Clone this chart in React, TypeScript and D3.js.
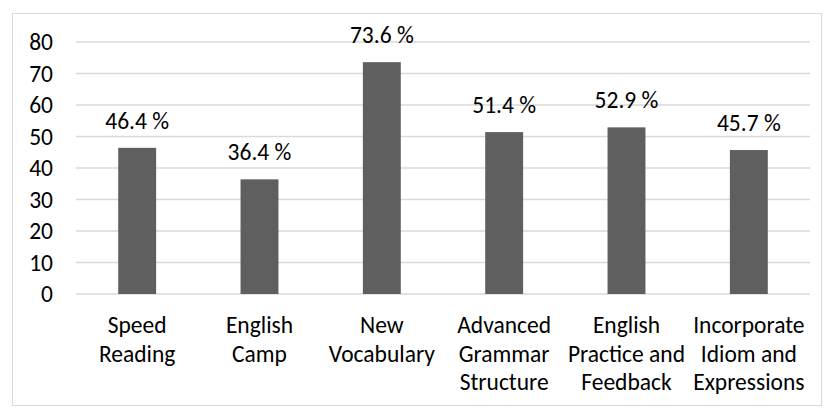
import React from "react";
import * as d3 from "d3";

// chart data
const categories: string[][] = [
  ["Speed", "Reading"],
  ["English", "Camp"],
  ["New", "Vocabulary"],
  ["Advanced", "Grammar", "Structure"],
  ["English", "Practice and", "Feedback"],
  ["Incorporate", "Idiom and", "Expressions"],
];
const values: number[] = [46.4, 36.4, 73.6, 51.4, 52.9, 45.7];
const yTicks: number[] = [0, 10, 20, 30, 40, 50, 60, 70, 80];

const W = 825;
const H = 408;
const margin = { top: 42, right: 15, bottom: 114, left: 76 };
const font = "Carlito, Lato, 'Open Sans', sans-serif";
const fs = 23.5;

export default function App() {
  const x = d3
    .scaleBand<number>()
    .domain(values.map((_, i) => i))
    .range([margin.left, W - margin.right])
    .paddingInner(0.69)
    .paddingOuter(0.345);
  const y = d3
    .scaleLinear()
    .domain([0, 80])
    .range([H - margin.bottom, margin.top]);

  return (
    <svg
      width={W}
      height={H}
      style={{ position: "absolute", left: 0, top: 0, background: "#fff" }}
      fontFamily={font}
    >
      {/* chart frame */}
      <rect x={12.5} y={13.5} width={809} height={392} fill="#fff" stroke="#d9d9d9" />

      {/* gridlines and y labels */}
      {yTicks.map((t) => (
        <g key={t}>
          <line
            x1={margin.left}
            x2={W - margin.right}
            y1={y(t)}
            y2={y(t)}
            stroke="#d9d9d9"
            strokeWidth={1.3}
          />
          <text
            x={53}
            y={y(t)}
            dy="0.36em"
            textAnchor="end"
            fontSize={fs}
            fill="#000"
          >
            {t}
          </text>
        </g>
      ))}

      {/* bars */}
      {values.map((v, i) => (
        <rect
          key={i}
          x={x(i)}
          y={y(v)}
          width={x.bandwidth()}
          height={y(0) - y(v)}
          fill="#5f5f5f"
        />
      ))}

      {/* data labels */}
      {values.map((v, i) => (
        <text
          key={i}
          x={(x(i) as number) + x.bandwidth() / 2}
          y={y(v) - 19}
          textAnchor="middle"
          fontSize={fs}
          fill="#000"
        >
          {v.toFixed(1) + " %"}
        </text>
      ))}

      {/* category labels */}
      {categories.map((lines, i) => (
        <text
          key={i}
          x={(x(i) as number) + x.bandwidth() / 2}
          y={y(0) + 39}
          textAnchor="middle"
          fontSize={fs}
          fill="#000"
        >
          {lines.map((l, j) => (
            <tspan key={j} x={(x(i) as number) + x.bandwidth() / 2} dy={j === 0 ? 0 : 28.5}>
              {l}
            </tspan>
          ))}
        </text>
      ))}
    </svg>
  );
}
